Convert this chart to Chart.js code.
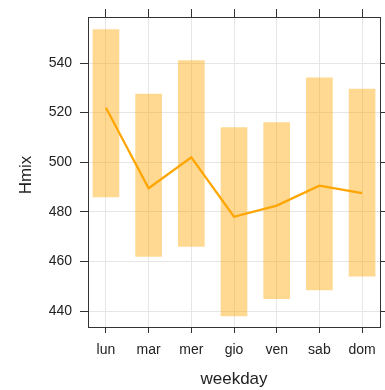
<!DOCTYPE html>
<html><head><meta charset="utf-8">
<script src="https://cdn.jsdelivr.net/npm/chart.js@4.4.1/dist/chart.umd.min.js"></script>
<style>html,body{margin:0;padding:0;background:#fff;overflow:hidden;} #wrap{width:385px;height:390px;position:relative;}</style>
</head><body><div id="wrap"><canvas id="c" width="385" height="390"></canvas></div>
<script>
const weekdays = ['lun', 'mar', 'mer', 'gio', 'ven', 'sab', 'dom'];
const hmixLow  = [486, 462, 466, 438, 445, 448.5, 454];
const hmixHigh = [553.5, 527.5, 541, 514, 516, 534, 529.5];
const hmixMean = [522, 489.5, 502, 478, 482.5, 490.5, 487.5];
const yTicks = [440, 460, 480, 500, 520, 540];
const xTitle = 'weekday';
const yTitle = 'Hmix';

const FONT = '"Liberation Sans", Arial, Helvetica, sans-serif';
const TXT = '#222';
const FRAME = '#333';
const GRID = '#e6e6e6';
const X_MIN = -0.42, X_MAX = 6.42;
const Y_MIN = 433.55, Y_MAX = 558.55;

const xTickSet = s => { s.ticks = weekdays.map((_, i) => ({ value: i })); };
const yTickSet = s => { s.ticks = yTicks.map(v => ({ value: v })); };

const yTitlePlugin = {
  id: 'yTitle',
  afterDraw(chart) {
    const ctx = chart.ctx;
    const ca = chart.chartArea;
    ctx.save();
    ctx.translate(26, (ca.top + ca.bottom) / 2 + 3);
    ctx.rotate(-Math.PI / 2);
    ctx.font = '17px ' + FONT;
    ctx.fillStyle = TXT;
    ctx.textAlign = 'center';
    ctx.textBaseline = 'middle';
    ctx.fillText(yTitle, 0, 0);
    ctx.restore();
  }
};

new Chart(document.getElementById('c'), {
  type: 'bar',
  data: {
    datasets: [
      {
        type: 'line',
        data: weekdays.map((_, i) => ({ x: i, y: hmixMean[i] })),
        borderColor: '#FFA500',
        borderWidth: 2.2,
        pointRadius: 0,
        tension: 0,
        fill: false,
        order: 1,
        xAxisID: 'x', yAxisID: 'y'
      },
      {
        type: 'bar',
        data: weekdays.map((_, i) => ({ x: i, y: [hmixLow[i], hmixHigh[i]] })),
        backgroundColor: 'rgba(255,165,0,0.43)',
        borderWidth: 0,
        barThickness: 26,
        order: 2,
        xAxisID: 'x', yAxisID: 'y'
      }
    ]
  },
  plugins: [yTitlePlugin],
  options: {
    responsive: false,
    animation: false,
    devicePixelRatio: 1,
    layout: { padding: 0 },
    plugins: { legend: { display: false }, tooltip: { enabled: false } },
    scales: {
      x: {
        type: 'linear', position: 'bottom', min: X_MIN, max: X_MAX, offset: false,
        afterBuildTicks: xTickSet,
        afterFit: s => { s.height = 63; },
        ticks: { callback: v => weekdays[v], font: { family: FONT, size: 14 }, color: TXT, padding: 9, maxRotation: 0, autoSkip: false },
        grid: { offset: false, color: GRID, tickColor: FRAME, tickLength: 6, lineWidth: 1 },
        border: { color: FRAME, width: 1 },
        title: { display: true, text: xTitle, font: { family: FONT, size: 17 }, color: TXT, padding: { top: 0, bottom: 0 } }
      },
      x2: {
        type: 'linear', position: 'top', min: X_MIN, max: X_MAX, offset: false,
        afterBuildTicks: xTickSet,
        afterFit: s => { s.height = 17; },
        ticks: { display: false },
        grid: { offset: false, drawOnChartArea: false, tickColor: FRAME, tickLength: 8 },
        border: { color: FRAME, width: 1 }
      },
      y: {
        type: 'linear', position: 'left', min: Y_MIN, max: Y_MAX,
        afterBuildTicks: yTickSet,
        afterFit: s => { s.width = 88; },
        ticks: { font: { family: FONT, size: 14 }, color: TXT, padding: 8 },
        grid: { color: GRID, tickColor: FRAME, tickLength: 8, lineWidth: 1 },
        border: { color: FRAME, width: 1 },
        title: { display: false }
      },
      y2: {
        type: 'linear', position: 'right', min: Y_MIN, max: Y_MAX,
        afterBuildTicks: yTickSet,
        afterFit: s => { s.width = 5; },
        ticks: { display: false },
        grid: { drawOnChartArea: false, tickColor: FRAME, tickLength: 8 },
        border: { color: FRAME, width: 1 }
      }
    }
  }
});
</script>
</body></html>
